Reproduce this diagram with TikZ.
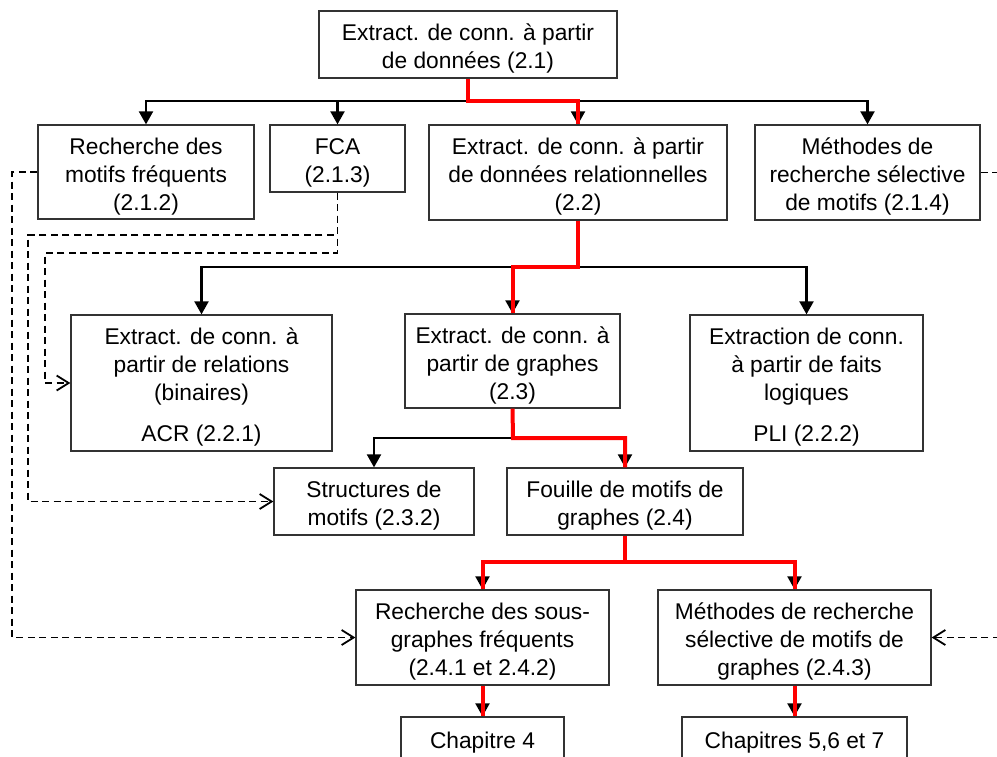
\documentclass[tikz,border=0pt]{standalone}
\usepackage{fontspec}
\setmainfont{Liberation Sans}
\usetikzlibrary{arrows.meta}
\newcommand{\tpad}{\rule{0pt}{25pt}}
\newcommand{\bpad}{\rule[-5pt]{0pt}{5pt}}
\begin{document}
\begin{tikzpicture}[x=1pt,y=-1pt,
  box/.style={draw=black!80,line width=1.3pt,fill=white,inner sep=0pt,align=center,
    font=\fontsize{22.75pt}{28pt}\selectfont},
  blk/.style={draw=black,line width=2.2pt,-{Triangle[width=14pt,length=13pt]}},
  redl/.style={draw=red,line width=4pt},
  dsh/.style={draw=black,line width=1.8pt,dash pattern=on 7pt off 4.5pt,
    -{Straight Barb[length=12pt,width=15pt,line width=1.8pt]}}]
\clip (0,0) rectangle (997,756);
\fill[white] (0,0) rectangle (997,756);
% nodes
\node[box,minimum width=298pt,minimum height=67pt] (top) at (468,44.5) {\tpad Extract. de conn. à partir\\de données (2.1)\bpad};
\node[box,minimum width=216pt,minimum height=94pt] (rech) at (146,172) {\tpad Recherche des\\motifs fréquents\\(2.1.2)\bpad};
\node[box,minimum width=135pt,minimum height=67pt] (fca) at (337.5,158.5) {\tpad FCA\\(2.1.3)\bpad};
\node[box,minimum width=298pt,minimum height=95pt] (rel) at (578,172.5) {\tpad Extract. de conn. à partir\\de données relationnelles\\(2.2)\bpad};
\node[box,minimum width=225pt,minimum height=95pt] (sel) at (867.5,172.5) {\tpad Méthodes de\\recherche sélective\\de motifs (2.1.4)\bpad};
\node[box,minimum width=261pt,minimum height=136pt] (acr) at (201.5,383) {\tpad Extract. de conn. à\\partir de relations\\(binaires)\\[13pt]ACR (2.2.1)\bpad};
\node[box,minimum width=215pt,minimum height=94pt] (gra) at (512.5,361) {\tpad Extract. de conn. à\\partir de graphes\\(2.3)\bpad};
\node[box,minimum width=233pt,minimum height=136pt] (pli) at (806.5,383) {\tpad Extraction de conn.\\à partir de faits\\logiques\\[13pt]PLI (2.2.2)\bpad};
\node[box,minimum width=200pt,minimum height=67pt] (str) at (374,501.5) {\tpad Structures de\\motifs (2.3.2)\bpad};
\node[box,minimum width=236pt,minimum height=67pt] (fou) at (625,501.5) {\tpad Fouille de motifs de\\graphes (2.4)\bpad};
\node[box,minimum width=253pt,minimum height=95pt] (sous) at (482.5,637.5) {\tpad Recherche des sous-\\graphes fréquents\\(2.4.1 et 2.4.2)\bpad};
\node[box,minimum width=273pt,minimum height=95pt] (meth) at (794.5,637.5) {\tpad Méthodes de recherche\\sélective de motifs de\\graphes (2.4.3)\bpad};
\node[box,minimum width=163pt,minimum height=42pt] (ch4) at (482.5,738) {\tpad Chapitre 4\bpad};
\node[box,minimum width=225pt,minimum height=42pt] (ch5) at (794.5,738) {\tpad Chapitres 5,6 et 7\bpad};
% junction coordinates
\coordinate (j1) at (468,101);
\coordinate (j2) at (578,267);
\coordinate (j3) at (513,438);
\coordinate (j4) at (625,562);
\coordinate (d1) at (28,235);
\coordinate (d2) at (45,253);
% black arrows
\draw[blk] (j1) -| (rech.north);
\draw[blk] (j1) -| (fca.north);
\draw[blk] (j1) -| (rel.north);
\draw[blk] (j1) -| (sel.north);
\draw[blk] (j2) -| (acr.north);
\draw[blk] (j2) -| (gra.north);
\draw[blk] (j2) -| (pli.north);
\draw[blk] (j3) -| (str.north);
\draw[blk] (j3) -| (fou.north);
\draw[blk] (j4) -| (sous.north);
\draw[blk] (j4) -| (meth.north);
\draw[blk] (sous.south) -- (ch4.north);
\draw[blk] (meth.south) -- (ch5.north);
% red path
\draw[redl] (top.south) -- (j1) -| (rel.north);
\draw[redl] (rel.south) -- (j2) -| (gra.north);
\draw[redl] (gra.south) -- (j3) -| (fou.north);
\draw[redl] (fou.south) -- (j4) -| (sous.north);
\draw[redl] (j4) -| (meth.north);
\draw[redl] (sous.south) -- (ch4.north);
\draw[redl] (meth.south) -- (ch5.north);
% dashed
\draw[dsh] (rech.west) -- ++(-25,0) |- (sous.west);
\draw[dsh] (fca.south) |- (d1) |- (str.west);
\draw[dsh] (fca.south) |- (d2) |- (acr.west);
\draw[dsh] (sel.east) -- ++(30,0) |- (meth.east);
\end{tikzpicture}
\end{document}
